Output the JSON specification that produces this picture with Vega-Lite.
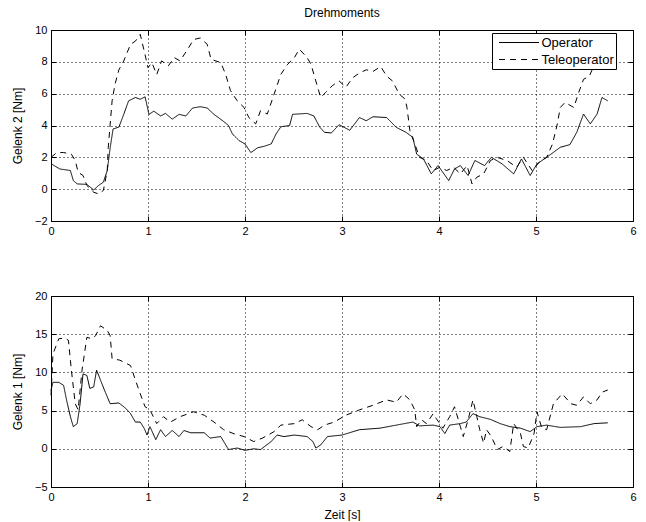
{
  "$schema": "https://vega.github.io/schema/vega-lite/v6.json",
  "autosize": {"type": "pad"},
  "padding": {"left": 10, "top": 6, "right": 0, "bottom": 0},
  "bounds": "flush",
  "spacing": 75,
  "background": "white",
  "config": {
    "font": "Liberation Sans",
    "view": {"stroke": "black", "strokeWidth": 1},
    "axis": {
      "domain": false,
      "grid": true,
      "gridColor": "black",
      "gridDash": [1, 3],
      "gridOpacity": 1,
      "gridWidth": 1,
      "ticks": true,
      "tickColor": "black",
      "tickSize": -5,
      "labelPadding": 9,
      "labelFont": "Liberation Sans",
      "labelFontSize": 11,
      "labelColor": "black",
      "titleFont": "Liberation Sans",
      "titleFontSize": 12,
      "titleFontWeight": "normal",
      "titleColor": "black"
    }
  },
  "resolve": {"scale": {"strokeDash": "independent"}},
  "datasets": {
    "top": [
      {"t":0,"v":1.6,"s":"Operator"},{"t":0.09,"v":1.27,"s":"Operator"},{"t":0.2,"v":1.17,"s":"Operator"},{"t":0.23,"v":0.54,"s":"Operator"},{"t":0.27,"v":0.33,"s":"Operator"},{"t":0.37,"v":0.3,"s":"Operator"},{"t":0.44,"v":-0.05,"s":"Operator"},{"t":0.49,"v":0.23,"s":"Operator"},{"t":0.54,"v":0.44,"s":"Operator"},{"t":0.58,"v":1.17,"s":"Operator"},{"t":0.61,"v":2.6,"s":"Operator"},{"t":0.64,"v":3.78,"s":"Operator"},{"t":0.7,"v":3.9,"s":"Operator"},{"t":0.75,"v":4.7,"s":"Operator"},{"t":0.8,"v":5.55,"s":"Operator"},{"t":0.87,"v":5.76,"s":"Operator"},{"t":0.92,"v":5.65,"s":"Operator"},{"t":0.97,"v":5.8,"s":"Operator"},{"t":1.01,"v":4.7,"s":"Operator"},{"t":1.06,"v":4.9,"s":"Operator"},{"t":1.13,"v":4.6,"s":"Operator"},{"t":1.18,"v":4.76,"s":"Operator"},{"t":1.25,"v":4.4,"s":"Operator"},{"t":1.32,"v":4.7,"s":"Operator"},{"t":1.39,"v":4.6,"s":"Operator"},{"t":1.46,"v":5.1,"s":"Operator"},{"t":1.54,"v":5.18,"s":"Operator"},{"t":1.61,"v":5.1,"s":"Operator"},{"t":1.68,"v":4.7,"s":"Operator"},{"t":1.77,"v":4.3,"s":"Operator"},{"t":1.83,"v":4.0,"s":"Operator"},{"t":1.87,"v":3.47,"s":"Operator"},{"t":1.94,"v":3.05,"s":"Operator"},{"t":2.0,"v":2.84,"s":"Operator"},{"t":2.06,"v":2.3,"s":"Operator"},{"t":2.13,"v":2.6,"s":"Operator"},{"t":2.2,"v":2.7,"s":"Operator"},{"t":2.27,"v":2.84,"s":"Operator"},{"t":2.32,"v":3.47,"s":"Operator"},{"t":2.37,"v":3.92,"s":"Operator"},{"t":2.46,"v":4.0,"s":"Operator"},{"t":2.49,"v":4.7,"s":"Operator"},{"t":2.64,"v":4.76,"s":"Operator"},{"t":2.71,"v":4.6,"s":"Operator"},{"t":2.77,"v":3.9,"s":"Operator"},{"t":2.82,"v":3.57,"s":"Operator"},{"t":2.89,"v":3.53,"s":"Operator"},{"t":2.97,"v":4.05,"s":"Operator"},{"t":3.08,"v":3.7,"s":"Operator"},{"t":3.18,"v":4.5,"s":"Operator"},{"t":3.25,"v":4.3,"s":"Operator"},{"t":3.32,"v":4.55,"s":"Operator"},{"t":3.46,"v":4.5,"s":"Operator"},{"t":3.56,"v":3.88,"s":"Operator"},{"t":3.66,"v":3.57,"s":"Operator"},{"t":3.73,"v":3.26,"s":"Operator"},{"t":3.77,"v":2.2,"s":"Operator"},{"t":3.84,"v":1.9,"s":"Operator"},{"t":3.92,"v":0.96,"s":"Operator"},{"t":3.99,"v":1.48,"s":"Operator"},{"t":4.1,"v":0.54,"s":"Operator"},{"t":4.16,"v":1.27,"s":"Operator"},{"t":4.22,"v":1.48,"s":"Operator"},{"t":4.3,"v":0.86,"s":"Operator"},{"t":4.37,"v":1.8,"s":"Operator"},{"t":4.47,"v":1.48,"s":"Operator"},{"t":4.54,"v":2.0,"s":"Operator"},{"t":4.65,"v":1.59,"s":"Operator"},{"t":4.77,"v":0.96,"s":"Operator"},{"t":4.85,"v":1.9,"s":"Operator"},{"t":4.94,"v":0.86,"s":"Operator"},{"t":5.01,"v":1.59,"s":"Operator"},{"t":5.11,"v":2.0,"s":"Operator"},{"t":5.25,"v":2.63,"s":"Operator"},{"t":5.35,"v":2.8,"s":"Operator"},{"t":5.42,"v":3.57,"s":"Operator"},{"t":5.49,"v":4.72,"s":"Operator"},{"t":5.56,"v":4.1,"s":"Operator"},{"t":5.63,"v":4.72,"s":"Operator"},{"t":5.68,"v":5.76,"s":"Operator"},{"t":5.74,"v":5.55,"s":"Operator"},
      {"t":0,"v":2.0,"s":"Teleoperator"},{"t":0.06,"v":2.3,"s":"Teleoperator"},{"t":0.13,"v":2.3,"s":"Teleoperator"},{"t":0.21,"v":2.2,"s":"Teleoperator"},{"t":0.25,"v":1.8,"s":"Teleoperator"},{"t":0.28,"v":1.06,"s":"Teleoperator"},{"t":0.33,"v":0.86,"s":"Teleoperator"},{"t":0.37,"v":0.23,"s":"Teleoperator"},{"t":0.44,"v":-0.19,"s":"Teleoperator"},{"t":0.49,"v":-0.3,"s":"Teleoperator"},{"t":0.54,"v":-0.08,"s":"Teleoperator"},{"t":0.58,"v":1.17,"s":"Teleoperator"},{"t":0.59,"v":2.6,"s":"Teleoperator"},{"t":0.63,"v":5.55,"s":"Teleoperator"},{"t":0.66,"v":6.6,"s":"Teleoperator"},{"t":0.7,"v":7.5,"s":"Teleoperator"},{"t":0.75,"v":8.06,"s":"Teleoperator"},{"t":0.82,"v":9.1,"s":"Teleoperator"},{"t":0.87,"v":9.3,"s":"Teleoperator"},{"t":0.92,"v":9.73,"s":"Teleoperator"},{"t":0.96,"v":8.7,"s":"Teleoperator"},{"t":1.0,"v":7.64,"s":"Teleoperator"},{"t":1.04,"v":7.95,"s":"Teleoperator"},{"t":1.09,"v":7.2,"s":"Teleoperator"},{"t":1.14,"v":8.06,"s":"Teleoperator"},{"t":1.21,"v":7.75,"s":"Teleoperator"},{"t":1.27,"v":8.27,"s":"Teleoperator"},{"t":1.33,"v":8.06,"s":"Teleoperator"},{"t":1.4,"v":8.7,"s":"Teleoperator"},{"t":1.47,"v":9.4,"s":"Teleoperator"},{"t":1.54,"v":9.5,"s":"Teleoperator"},{"t":1.61,"v":9.1,"s":"Teleoperator"},{"t":1.65,"v":8.16,"s":"Teleoperator"},{"t":1.75,"v":7.95,"s":"Teleoperator"},{"t":1.8,"v":7.22,"s":"Teleoperator"},{"t":1.85,"v":6.2,"s":"Teleoperator"},{"t":1.92,"v":5.55,"s":"Teleoperator"},{"t":1.99,"v":5.13,"s":"Teleoperator"},{"t":2.04,"v":4.5,"s":"Teleoperator"},{"t":2.11,"v":4.1,"s":"Teleoperator"},{"t":2.16,"v":4.93,"s":"Teleoperator"},{"t":2.23,"v":4.72,"s":"Teleoperator"},{"t":2.3,"v":5.97,"s":"Teleoperator"},{"t":2.37,"v":7.22,"s":"Teleoperator"},{"t":2.44,"v":7.85,"s":"Teleoperator"},{"t":2.51,"v":8.27,"s":"Teleoperator"},{"t":2.56,"v":8.8,"s":"Teleoperator"},{"t":2.64,"v":8.27,"s":"Teleoperator"},{"t":2.68,"v":7.85,"s":"Teleoperator"},{"t":2.73,"v":6.8,"s":"Teleoperator"},{"t":2.78,"v":5.76,"s":"Teleoperator"},{"t":2.83,"v":6.07,"s":"Teleoperator"},{"t":2.9,"v":6.5,"s":"Teleoperator"},{"t":2.97,"v":6.8,"s":"Teleoperator"},{"t":3.04,"v":6.4,"s":"Teleoperator"},{"t":3.11,"v":7.0,"s":"Teleoperator"},{"t":3.18,"v":7.3,"s":"Teleoperator"},{"t":3.25,"v":7.5,"s":"Teleoperator"},{"t":3.32,"v":7.4,"s":"Teleoperator"},{"t":3.4,"v":7.7,"s":"Teleoperator"},{"t":3.46,"v":7.1,"s":"Teleoperator"},{"t":3.52,"v":6.8,"s":"Teleoperator"},{"t":3.59,"v":5.97,"s":"Teleoperator"},{"t":3.65,"v":5.66,"s":"Teleoperator"},{"t":3.67,"v":5.13,"s":"Teleoperator"},{"t":3.7,"v":3.67,"s":"Teleoperator"},{"t":3.75,"v":2.84,"s":"Teleoperator"},{"t":3.8,"v":2.0,"s":"Teleoperator"},{"t":3.87,"v":1.8,"s":"Teleoperator"},{"t":3.94,"v":1.17,"s":"Teleoperator"},{"t":4.01,"v":1.38,"s":"Teleoperator"},{"t":4.08,"v":1.17,"s":"Teleoperator"},{"t":4.15,"v":1.38,"s":"Teleoperator"},{"t":4.22,"v":0.96,"s":"Teleoperator"},{"t":4.29,"v":1.48,"s":"Teleoperator"},{"t":4.34,"v":0.33,"s":"Teleoperator"},{"t":4.39,"v":0.75,"s":"Teleoperator"},{"t":4.46,"v":0.96,"s":"Teleoperator"},{"t":4.53,"v":1.8,"s":"Teleoperator"},{"t":4.6,"v":2.0,"s":"Teleoperator"},{"t":4.7,"v":1.8,"s":"Teleoperator"},{"t":4.8,"v":1.38,"s":"Teleoperator"},{"t":4.87,"v":2.0,"s":"Teleoperator"},{"t":4.96,"v":1.17,"s":"Teleoperator"},{"t":5.05,"v":1.8,"s":"Teleoperator"},{"t":5.11,"v":2.0,"s":"Teleoperator"},{"t":5.17,"v":2.84,"s":"Teleoperator"},{"t":5.22,"v":4.1,"s":"Teleoperator"},{"t":5.25,"v":5.13,"s":"Teleoperator"},{"t":5.3,"v":5.45,"s":"Teleoperator"},{"t":5.39,"v":5.13,"s":"Teleoperator"},{"t":5.44,"v":6.07,"s":"Teleoperator"},{"t":5.49,"v":6.9,"s":"Teleoperator"},{"t":5.55,"v":7.1,"s":"Teleoperator"},{"t":5.6,"v":7.8,"s":"Teleoperator"},{"t":5.65,"v":8.6,"s":"Teleoperator"},{"t":5.7,"v":9.3,"s":"Teleoperator"},{"t":5.74,"v":9.8,"s":"Teleoperator"}
    ],
    "bottom": [
      {"t":0,"v":7.66,"s":"Operator"},{"t":0.02,"v":8.7,"s":"Operator"},{"t":0.08,"v":8.7,"s":"Operator"},{"t":0.13,"v":8.3,"s":"Operator"},{"t":0.16,"v":6.4,"s":"Operator"},{"t":0.2,"v":4.2,"s":"Operator"},{"t":0.23,"v":2.9,"s":"Operator"},{"t":0.27,"v":3.3,"s":"Operator"},{"t":0.3,"v":5.9,"s":"Operator"},{"t":0.33,"v":9.8,"s":"Operator"},{"t":0.37,"v":9.6,"s":"Operator"},{"t":0.4,"v":7.9,"s":"Operator"},{"t":0.44,"v":8.1,"s":"Operator"},{"t":0.47,"v":10.3,"s":"Operator"},{"t":0.51,"v":9.0,"s":"Operator"},{"t":0.56,"v":7.4,"s":"Operator"},{"t":0.61,"v":5.9,"s":"Operator"},{"t":0.7,"v":6.0,"s":"Operator"},{"t":0.77,"v":5.3,"s":"Operator"},{"t":0.82,"v":4.6,"s":"Operator"},{"t":0.87,"v":3.5,"s":"Operator"},{"t":0.92,"v":3.5,"s":"Operator"},{"t":0.96,"v":2.7,"s":"Operator"},{"t":0.99,"v":1.8,"s":"Operator"},{"t":1.02,"v":2.9,"s":"Operator"},{"t":1.08,"v":1.2,"s":"Operator"},{"t":1.13,"v":2.5,"s":"Operator"},{"t":1.18,"v":1.6,"s":"Operator"},{"t":1.25,"v":2.4,"s":"Operator"},{"t":1.32,"v":1.6,"s":"Operator"},{"t":1.37,"v":2.4,"s":"Operator"},{"t":1.44,"v":2.1,"s":"Operator"},{"t":1.58,"v":2.1,"s":"Operator"},{"t":1.64,"v":1.4,"s":"Operator"},{"t":1.75,"v":1.6,"s":"Operator"},{"t":1.83,"v":-0.1,"s":"Operator"},{"t":1.92,"v":0.1,"s":"Operator"},{"t":2.0,"v":-0.2,"s":"Operator"},{"t":2.09,"v":0,"s":"Operator"},{"t":2.16,"v":-0.1,"s":"Operator"},{"t":2.27,"v":0.95,"s":"Operator"},{"t":2.33,"v":1.8,"s":"Operator"},{"t":2.4,"v":1.6,"s":"Operator"},{"t":2.51,"v":1.8,"s":"Operator"},{"t":2.64,"v":1.6,"s":"Operator"},{"t":2.7,"v":0.95,"s":"Operator"},{"t":2.73,"v":0.1,"s":"Operator"},{"t":2.78,"v":0.5,"s":"Operator"},{"t":2.85,"v":1.6,"s":"Operator"},{"t":3.0,"v":1.8,"s":"Operator"},{"t":3.18,"v":2.5,"s":"Operator"},{"t":3.39,"v":2.7,"s":"Operator"},{"t":3.56,"v":3.1,"s":"Operator"},{"t":3.73,"v":3.5,"s":"Operator"},{"t":3.8,"v":3.0,"s":"Operator"},{"t":3.94,"v":3.1,"s":"Operator"},{"t":4.01,"v":2.9,"s":"Operator"},{"t":4.06,"v":2.0,"s":"Operator"},{"t":4.11,"v":3.1,"s":"Operator"},{"t":4.22,"v":3.3,"s":"Operator"},{"t":4.28,"v":3.5,"s":"Operator"},{"t":4.35,"v":4.6,"s":"Operator"},{"t":4.42,"v":4.2,"s":"Operator"},{"t":4.53,"v":3.85,"s":"Operator"},{"t":4.63,"v":3.3,"s":"Operator"},{"t":4.73,"v":2.9,"s":"Operator"},{"t":4.84,"v":2.7,"s":"Operator"},{"t":4.94,"v":2.25,"s":"Operator"},{"t":5.01,"v":2.9,"s":"Operator"},{"t":5.11,"v":3.1,"s":"Operator"},{"t":5.25,"v":2.8,"s":"Operator"},{"t":5.46,"v":2.9,"s":"Operator"},{"t":5.6,"v":3.3,"s":"Operator"},{"t":5.74,"v":3.4,"s":"Operator"},
      {"t":0,"v":7.0,"s":"Teleoperator"},{"t":0.02,"v":12.4,"s":"Teleoperator"},{"t":0.08,"v":14.4,"s":"Teleoperator"},{"t":0.14,"v":14.5,"s":"Teleoperator"},{"t":0.18,"v":14.2,"s":"Teleoperator"},{"t":0.21,"v":10.3,"s":"Teleoperator"},{"t":0.25,"v":5.9,"s":"Teleoperator"},{"t":0.28,"v":5.1,"s":"Teleoperator"},{"t":0.32,"v":10.3,"s":"Teleoperator"},{"t":0.37,"v":14.6,"s":"Teleoperator"},{"t":0.42,"v":14.4,"s":"Teleoperator"},{"t":0.46,"v":14.8,"s":"Teleoperator"},{"t":0.51,"v":16.1,"s":"Teleoperator"},{"t":0.58,"v":15.5,"s":"Teleoperator"},{"t":0.61,"v":14.8,"s":"Teleoperator"},{"t":0.63,"v":11.8,"s":"Teleoperator"},{"t":0.71,"v":11.6,"s":"Teleoperator"},{"t":0.82,"v":10.9,"s":"Teleoperator"},{"t":0.87,"v":9.0,"s":"Teleoperator"},{"t":0.92,"v":7.2,"s":"Teleoperator"},{"t":0.97,"v":5.5,"s":"Teleoperator"},{"t":1.02,"v":5.1,"s":"Teleoperator"},{"t":1.09,"v":3.3,"s":"Teleoperator"},{"t":1.16,"v":4.2,"s":"Teleoperator"},{"t":1.23,"v":3.5,"s":"Teleoperator"},{"t":1.33,"v":4.2,"s":"Teleoperator"},{"t":1.47,"v":4.85,"s":"Teleoperator"},{"t":1.58,"v":4.4,"s":"Teleoperator"},{"t":1.68,"v":3.5,"s":"Teleoperator"},{"t":1.78,"v":2.5,"s":"Teleoperator"},{"t":1.89,"v":1.95,"s":"Teleoperator"},{"t":1.99,"v":1.6,"s":"Teleoperator"},{"t":2.09,"v":0.95,"s":"Teleoperator"},{"t":2.18,"v":1.4,"s":"Teleoperator"},{"t":2.3,"v":2.25,"s":"Teleoperator"},{"t":2.37,"v":3.1,"s":"Teleoperator"},{"t":2.51,"v":3.3,"s":"Teleoperator"},{"t":2.59,"v":3.8,"s":"Teleoperator"},{"t":2.68,"v":2.9,"s":"Teleoperator"},{"t":2.75,"v":2.5,"s":"Teleoperator"},{"t":2.82,"v":3.1,"s":"Teleoperator"},{"t":2.92,"v":3.5,"s":"Teleoperator"},{"t":3.04,"v":4.4,"s":"Teleoperator"},{"t":3.18,"v":5.1,"s":"Teleoperator"},{"t":3.32,"v":5.7,"s":"Teleoperator"},{"t":3.46,"v":6.4,"s":"Teleoperator"},{"t":3.56,"v":6.1,"s":"Teleoperator"},{"t":3.63,"v":7.2,"s":"Teleoperator"},{"t":3.7,"v":6.4,"s":"Teleoperator"},{"t":3.75,"v":5.1,"s":"Teleoperator"},{"t":3.77,"v":2.9,"s":"Teleoperator"},{"t":3.82,"v":3.8,"s":"Teleoperator"},{"t":3.87,"v":3.3,"s":"Teleoperator"},{"t":3.94,"v":4.6,"s":"Teleoperator"},{"t":3.97,"v":4.0,"s":"Teleoperator"},{"t":4.04,"v":2.7,"s":"Teleoperator"},{"t":4.11,"v":4.2,"s":"Teleoperator"},{"t":4.16,"v":5.5,"s":"Teleoperator"},{"t":4.22,"v":2.9,"s":"Teleoperator"},{"t":4.25,"v":1.6,"s":"Teleoperator"},{"t":4.3,"v":3.8,"s":"Teleoperator"},{"t":4.35,"v":6.4,"s":"Teleoperator"},{"t":4.39,"v":4.2,"s":"Teleoperator"},{"t":4.42,"v":2.5,"s":"Teleoperator"},{"t":4.46,"v":0.74,"s":"Teleoperator"},{"t":4.49,"v":2.5,"s":"Teleoperator"},{"t":4.54,"v":1.6,"s":"Teleoperator"},{"t":4.6,"v":-0.1,"s":"Teleoperator"},{"t":4.66,"v":0.3,"s":"Teleoperator"},{"t":4.73,"v":-0.35,"s":"Teleoperator"},{"t":4.77,"v":3.3,"s":"Teleoperator"},{"t":4.84,"v":2.0,"s":"Teleoperator"},{"t":4.87,"v":0.3,"s":"Teleoperator"},{"t":4.92,"v":0.1,"s":"Teleoperator"},{"t":4.98,"v":2.0,"s":"Teleoperator"},{"t":5.01,"v":4.85,"s":"Teleoperator"},{"t":5.06,"v":2.7,"s":"Teleoperator"},{"t":5.11,"v":2.5,"s":"Teleoperator"},{"t":5.18,"v":5.9,"s":"Teleoperator"},{"t":5.27,"v":7.2,"s":"Teleoperator"},{"t":5.36,"v":5.9,"s":"Teleoperator"},{"t":5.42,"v":5.7,"s":"Teleoperator"},{"t":5.49,"v":6.8,"s":"Teleoperator"},{"t":5.56,"v":5.9,"s":"Teleoperator"},{"t":5.63,"v":6.4,"s":"Teleoperator"},{"t":5.68,"v":7.4,"s":"Teleoperator"},{"t":5.74,"v":7.7,"s":"Teleoperator"}
    ]
  },
  "vconcat": [
    {
      "width": 582,
      "height": 191,
      "title": {"text": "Drehmoments", "fontSize": 12, "fontWeight": "normal", "font": "Liberation Sans", "color": "black", "frame": "group", "anchor": "middle", "baseline": "alphabetic", "offset": -5},
      "data": {"name": "top"},
      "resolve": {"axis": {"x": "independent", "y": "independent"}},
      "layer": [
        {
          "mark": {"type": "line", "color": "black", "strokeWidth": 1},
          "encoding": {
            "x": {"field": "t", "type": "quantitative", "scale": {"domain": [0, 6], "nice": false, "zero": false}, "axis": {"values": [0, 1, 2, 3, 4, 5, 6], "title": null, "labelFlush": false}},
            "y": {"field": "v", "type": "quantitative", "scale": {"domain": [-2, 10], "nice": false, "zero": false}, "axis": {"values": [-2, 0, 2, 4, 6, 8, 10], "title": "Gelenk 2 [Nm]", "titlePadding": 10}},
            "strokeDash": {
              "field": "s", "type": "nominal",
              "scale": {"domain": ["Operator", "Teleoperator"], "range": [[1, 0], [6, 5]]},
              "legend": {
                "orient": "none", "legendX": 441, "legendY": 3, "title": null,
                "symbolType": "M-5,0H5", "symbolSize": 64, "symbolOffset": 18.5, "labelOffset": 16,
                "clipHeight": 15, "rowPadding": 2, "padding": 2,
                "strokeColor": "black", "fillColor": "white",
                "labelFont": "Liberation Sans", "labelFontSize": 13, "labelColor": "black",
                "symbolStrokeColor": "black", "symbolStrokeWidth": 1
              }
            }
          }
        },
        {
          "mark": {"type": "line", "strokeOpacity": 0},
          "encoding": {
            "x": {"field": "t", "type": "quantitative", "scale": {"domain": [0, 6], "nice": false, "zero": false}, "axis": {"orient": "top", "values": [0, 1, 2, 3, 4, 5, 6], "labels": false, "grid": false, "title": null}},
            "y": {"field": "v", "type": "quantitative", "scale": {"domain": [-2, 10], "nice": false, "zero": false}, "axis": {"orient": "right", "values": [-2, 0, 2, 4, 6, 8, 10], "labels": false, "grid": false, "title": null}}
          }
        }
      ]
    },
    {
      "width": 582,
      "height": 191,
      "data": {"name": "bottom"},
      "resolve": {"axis": {"x": "independent", "y": "independent"}},
      "layer": [
        {
          "mark": {"type": "line", "color": "black", "strokeWidth": 1},
          "encoding": {
            "x": {"field": "t", "type": "quantitative", "scale": {"domain": [0, 6], "nice": false, "zero": false}, "axis": {"values": [0, 1, 2, 3, 4, 5, 6], "title": "Zeit [s]", "labelFlush": false, "titlePadding": 7}},
            "y": {"field": "v", "type": "quantitative", "scale": {"domain": [-5, 20], "nice": false, "zero": false}, "axis": {"values": [-5, 0, 5, 10, 15, 20], "title": "Gelenk 1 [Nm]", "titlePadding": 10}},
            "strokeDash": {
              "field": "s", "type": "nominal",
              "scale": {"domain": ["Operator", "Teleoperator"], "range": [[1, 0], [6, 5]]},
              "legend": null
            }
          }
        },
        {
          "mark": {"type": "line", "strokeOpacity": 0},
          "encoding": {
            "x": {"field": "t", "type": "quantitative", "scale": {"domain": [0, 6], "nice": false, "zero": false}, "axis": {"orient": "top", "values": [0, 1, 2, 3, 4, 5, 6], "labels": false, "grid": false, "title": null}},
            "y": {"field": "v", "type": "quantitative", "scale": {"domain": [-5, 20], "nice": false, "zero": false}, "axis": {"orient": "right", "values": [-5, 0, 5, 10, 15, 20], "labels": false, "grid": false, "title": null}}
          }
        }
      ]
    }
  ]
}
